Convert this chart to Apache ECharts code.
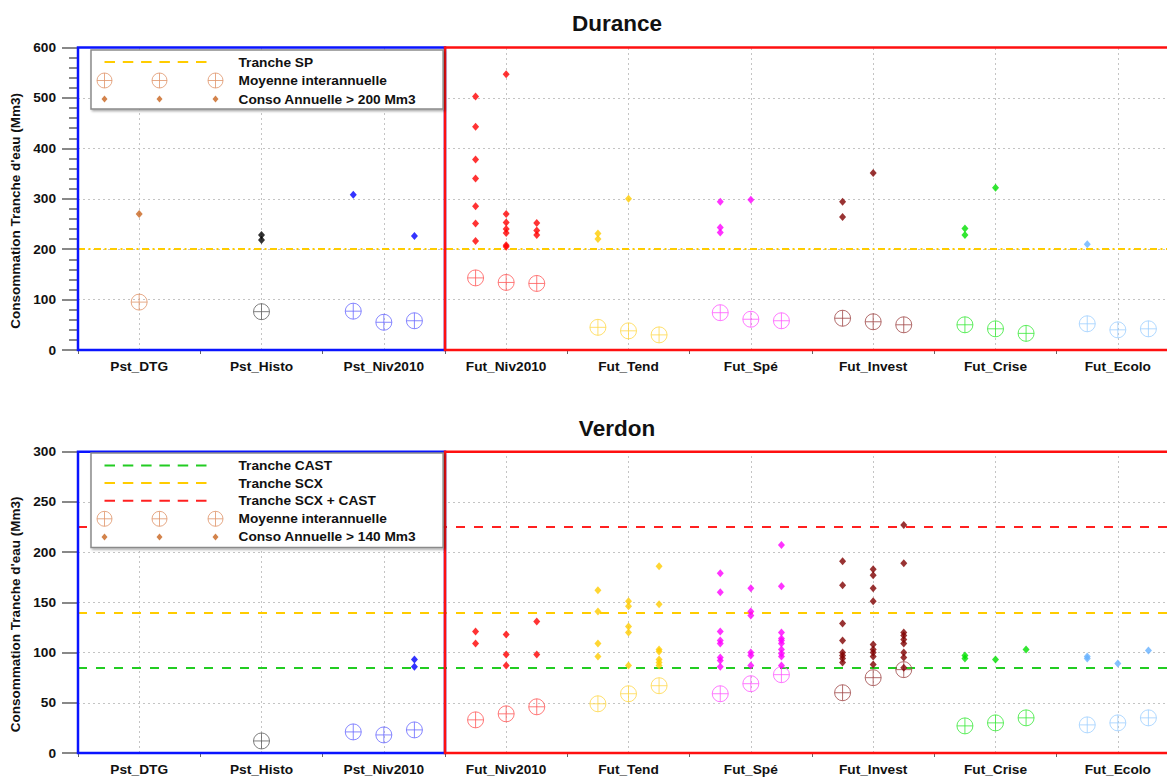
<!DOCTYPE html>
<html><head><meta charset="utf-8">
<script src="https://cdn.jsdelivr.net/npm/echarts@6/dist/echarts.min.js"></script>
<style>html,body{margin:0;padding:0;background:#fff}#c{width:1167px;height:778px}</style>
</head><body><div id="c"></div>
<script>
// ---------- DATA ----------
const categories = ['Pst_DTG','Pst_Histo','Pst_Niv2010','Fut_Niv2010','Fut_Tend','Fut_Spé','Fut_Invest','Fut_Crise','Fut_Ecolo'];

// Durance: interannual means per category, for the three sub-runs (left, centre, right)
const duranceMeans = [
  [null, 95, null],
  [null, 76, null],
  [77, 55, 58],
  [143, 134, 132],
  [45, 38, 30],
  [74, 61, 58],
  [63, 56, 50],
  [50, 42, 33],
  [52, 40, 42]
];
// Durance: annual consumptions > 200 Mm3
const duranceAnnual = [
  [[], [270], []],
  [[], [228, 218], []],
  [[308], [], [226]],
  [[503, 443, 378, 340, 285, 251, 216], [547, 270, 253, 240, 232, 208, 205], [252, 237, 228]],
  [[231, 220], [300], []],
  [[294, 243, 233], [298], []],
  [[294, 264], [351], []],
  [[241, 228], [322], []],
  [[210], [], []]
];
const duranceTrancheSP = 200;

// Verdon
const verdonMeans = [
  [null, null, null],
  [null, 12, null],
  [21, 18, 23],
  [33, 39, 46],
  [49, 59, 67],
  [59, 69, 78],
  [60, 75, 83],
  [27, 30, 35],
  [28, 30, 35]
];
const verdonAnnual = [
  [[], [], []],
  [[], [], []],
  [[], [], [93, 86]],
  [[121, 109], [118, 98, 87], [131, 98]],
  [[162, 141, 109, 96], [151, 146, 126, 120, 87], [186, 148, 103, 101, 93, 90, 87]],
  [[179, 160, 121, 112, 109, 95, 92, 86], [164, 141, 137, 100, 97, 87], [207, 166, 120, 114, 112, 109, 103, 99, 96, 87]],
  [[191, 167, 129, 112, 100, 97, 94, 90], [183, 177, 164, 151, 108, 103, 100, 96, 88], [227, 189, 120, 117, 113, 109, 100, 95, 85]],
  [[97, 94], [93], [103]],
  [[96, 94], [89], [102]]
];
const verdonTrancheCAST = 85;
const verdonTrancheSCX = 140;
const verdonTrancheSCXCAST = 225;

const duranceYTicks = {min: 0, max: 600, interval: 100};
const verdonYTicks = {min: 0, max: 300, interval: 50};

// ---------- STYLE ----------
const FONT = '"Liberation Sans", Arial, sans-serif';
const FS = 13.7;
const diamondColors = ['#c8641e','#000000','#0000ff','#ff0000','#ffcc00','#ff00ff','#800000','#00e000','#66b2ff'];
const meanColors = ['#e0956a','#606060','#6a6aff','#ff5a5a','#ffd84a','#ff5aff','#a04848','#3aea3a','#9fd0ff'];
const SUB = [-0.25, 0, 0.25];
const CIRCLE = 'path://M0 8A8 8 0 1 1 16 8A8 8 0 1 1 0 8ZM0 8L16 8M8 0L8 16';

function meanPoints(means) {
  const out = [];
  means.forEach((row, i) => row.forEach((v, s) => {
    if (v != null) out.push({value: [i + SUB[s], v], itemStyle: {borderColor: meanColors[i]}});
  }));
  return out;
}
function annualPoints(ann) {
  const out = [];
  ann.forEach((row, i) => row.forEach((vals, s) => vals.forEach(v => {
    out.push({value: [i + SUB[s], v], itemStyle: {color: diamondColors[i]}});
  })));
  return out;
}

// legend icons (137 x 16 box)
const CX = [8, 63, 119];
function dashIcon() {
  let p = 'path://M0 0M137 16';
  for (let k = 0; k < 6; k++) { const x = 8 + k * 18.3; p += `M${x} 7H${x + 10.5}V9H${x}Z`; }
  return p;
}
function circlesIcon() {
  let p = 'path://M0 0M137 16';
  CX.forEach(c => { p += `M${c - 7.5} 8A7.5 7.5 0 1 1 ${c + 7.5} 8A7.5 7.5 0 1 1 ${c - 7.5} 8ZM${c - 7.5} 8L${c + 7.5} 8M${c} 0.5L${c} 15.5`; });
  return p;
}
function diamondsIcon() {
  let p = 'path://M0 0M137 16';
  CX.forEach(c => { p += `M${c} 4.5L${c + 3} 8L${c} 11.5L${c - 3} 8Z`; });
  return p;
}

const labelStyle = {fontFamily: FONT, fontWeight: 'bold', fontSize: FS, color: '#111'};

function xAxes(g) {
  return [
    {type: 'category', gridIndex: g, data: categories, boundaryGap: true,
      axisLine: {show: false, onZero: false},
      axisTick: {show: true, length: 4, lineStyle: {color: '#666'}},
      axisLabel: Object.assign({margin: 9, interval: 0}, labelStyle),
      splitLine: {show: false}},
    {type: 'value', gridIndex: g, min: -0.5, max: 8.5, show: false, axisLine: {onZero: false}}
  ];
}
function yAxis(g, ticks, minor) {
  return {
    type: 'value', gridIndex: g, min: ticks.min, max: ticks.max, interval: ticks.interval,
    name: "Consommation Tranche d'eau (Mm3)", nameLocation: 'middle', nameGap: 54, nameRotate: 90,
    nameTextStyle: {fontFamily: FONT, fontWeight: 'bold', fontSize: 13.5, color: '#111', padding: [0, 24, 0, 0]},
    axisLine: {show: false, onZero: false},
    axisTick: {show: true, length: 16, lineStyle: {color: '#888', width: 2}},
    minorTick: {show: minor, splitNumber: 5, length: 9, lineStyle: {color: '#888', width: 2}},
    axisLabel: Object.assign({margin: 22}, labelStyle),
    splitLine: {show: true, lineStyle: {color: '#c4c4c4', type: [2, 3], width: 1}}
  };
}
function frameSeries(xi, yi, ymax) {
  return [
    {type: 'scatter', name: 'grid-v', xAxisIndex: xi, yAxisIndex: yi, data: [], silent: true, z: 1,
      markLine: {silent: true, z: 1, symbol: 'none', label: {show: false},
        lineStyle: {color: '#c4c4c4', type: [2, 3], width: 1},
        data: categories.map((c, i) => ({xAxis: i}))}},
    {type: 'scatter', name: 'frame', xAxisIndex: xi, yAxisIndex: yi, data: [], silent: true, z: 10,
      markArea: {silent: true, z: 10, label: {show: false},
        data: [
          [{xAxis: -0.5, yAxis: 0, itemStyle: {color: 'rgba(0,0,0,0)', borderColor: '#0a14ff', borderWidth: 2.5}}, {xAxis: 2.5, yAxis: ymax}],
          [{xAxis: 2.5, yAxis: 0, itemStyle: {color: 'rgba(0,0,0,0)', borderColor: '#ff1010', borderWidth: 2.5}}, {xAxis: 8.5, yAxis: ymax}]
        ]}}
  ];
}
function hline(name, xi, yi, value, color, type) {
  return {type: 'line', name: name, xAxisIndex: xi, yAxisIndex: yi, data: [], z: 3,
    markLine: {silent: true, z: 3, symbol: 'none', label: {show: false},
      lineStyle: {color: color, width: 2, type: type}, data: [{yAxis: value}]}};
}
function meanSeries(xi, yi, means) {
  return {type: 'scatter', name: 'Moyenne interannuelle', xAxisIndex: xi, yAxisIndex: yi, z: 4,
    symbol: CIRCLE, symbolSize: 16, emphasis: {disabled: true},
    itemStyle: {color: 'rgba(0,0,0,0)', borderWidth: 1}, data: meanPoints(means)};
}
function annualSeries(name, xi, yi, ann) {
  return {type: 'scatter', name: name, xAxisIndex: xi, yAxisIndex: yi, z: 5,
    symbol: 'diamond', symbolSize: [7, 8], emphasis: {disabled: true},
    itemStyle: {borderWidth: 0}, data: annualPoints(ann)};
}
const legendBase = {
  orient: 'vertical', left: 91, itemWidth: 137, itemHeight: 16, selectedMode: false, z: 12,
  backgroundColor: '#fff', borderColor: '#8a8a8a', borderWidth: 1.5,
  shadowColor: 'rgba(0,0,0,0.35)', shadowBlur: 2, shadowOffsetX: 1.5, shadowOffsetY: 1.5,
  textStyle: {fontFamily: FONT, fontWeight: 'bold', fontSize: FS, color: '#111'}
};
const circIconStyle = {color: 'rgba(0,0,0,0)', borderColor: '#e0956a', borderWidth: 1};

const option = {
  animation: false,
  backgroundColor: '#fff',
  title: [
    {text: 'Durance', left: 617, top: 12, textAlign: 'center', padding: 0,
      textStyle: {fontFamily: FONT, fontWeight: 'bold', fontSize: 22.5, color: '#111'}},
    {text: 'Verdon', left: 617, top: 417, textAlign: 'center', padding: 0,
      textStyle: {fontFamily: FONT, fontWeight: 'bold', fontSize: 22.5, color: '#111'}}
  ],
  legend: [
    Object.assign({}, legendBase, {top: 50, itemGap: 2, padding: [4, 27, 2, 5],
      data: [
        {name: 'Tranche SP', icon: dashIcon(), itemStyle: {color: '#ffcc00', borderWidth: 0}},
        {name: 'Moyenne interannuelle', icon: circlesIcon(), itemStyle: circIconStyle},
        {name: 'Conso Annuelle > 200 Mm3', icon: diamondsIcon(), itemStyle: {color: '#c8641e', borderWidth: 0}}
      ]}),
    Object.assign({}, legendBase, {top: 453, itemGap: 1.6, padding: [4.5, 27, 2.5, 5],
      data: [
        {name: 'Tranche CAST', icon: dashIcon(), itemStyle: {color: '#22cc22', borderWidth: 0}},
        {name: 'Tranche SCX', icon: dashIcon(), itemStyle: {color: '#ffcc00', borderWidth: 0}},
        {name: 'Tranche SCX + CAST', icon: dashIcon(), itemStyle: {color: '#ff2020', borderWidth: 0}},
        {name: 'Moyenne interannuelle', icon: circlesIcon(), itemStyle: circIconStyle},
        {name: 'Conso Annuelle > 140 Mm3', icon: diamondsIcon(), itemStyle: {color: '#c8641e', borderWidth: 0}}
      ]})
  ],
  grid: [
    {left: 78, top: 47.5, width: 1101, height: 302.5, outerBoundsMode: 'none', containLabel: false},
    {left: 78, top: 451.7, width: 1101, height: 301.3, outerBoundsMode: 'none', containLabel: false}
  ],
  xAxis: xAxes(0).concat(xAxes(1)),
  yAxis: [yAxis(0, duranceYTicks, true), yAxis(1, verdonYTicks, false)],
  series: [].concat(
    frameSeries(1, 0, duranceYTicks.max),
    [hline('Tranche SP', 1, 0, duranceTrancheSP, '#ffcc00', [7, 3.5, 2, 3.5])],
    [meanSeries(1, 0, duranceMeans), annualSeries('Conso Annuelle > 200 Mm3', 1, 0, duranceAnnual)],
    frameSeries(3, 1, verdonYTicks.max),
    [hline('Tranche CAST', 3, 1, verdonTrancheCAST, '#22cc22', [9, 9]),
     hline('Tranche SCX', 3, 1, verdonTrancheSCX, '#ffcc00', [9, 9]),
     hline('Tranche SCX + CAST', 3, 1, verdonTrancheSCXCAST, '#ff2020', [9, 9])],
    [meanSeries(3, 1, verdonMeans), annualSeries('Conso Annuelle > 140 Mm3', 3, 1, verdonAnnual)]
  )
};
const chart = echarts.init(document.getElementById('c'), null, {renderer: 'svg'});
chart.setOption(option);
</script></body></html>
